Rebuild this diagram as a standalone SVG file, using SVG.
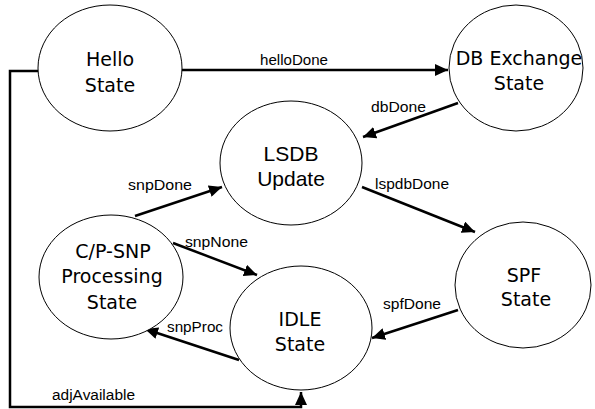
<svg xmlns="http://www.w3.org/2000/svg" width="595" height="409" viewBox="0 0 595 409">
  <style>
    .state { fill: #ffffff; stroke: #000000; stroke-width: 1; }
    .name { font-family: "DejaVu Sans", Verdana, sans-serif; font-size: 19px; fill: #000000; text-anchor: middle; }
    .name2 { font-family: "Liberation Sans", Arial, sans-serif; font-size: 21px; fill: #000000; text-anchor: middle; }
    .edge { fill: none; stroke: #000000; stroke-width: 2.5; marker-end: url(#head); }
    .label { font-family: "Liberation Sans", Arial, sans-serif; font-size: 14px; fill: #000000; }
  </style>
  <defs>
    <marker id="head" markerUnits="userSpaceOnUse" markerWidth="14" markerHeight="12" refX="13" refY="6" orient="auto">
      <path d="M0,0 L13,6 L0,12 Z" fill="#000000"/>
    </marker>
  </defs>
  <rect width="595" height="409" fill="#ffffff"/>

  <!-- transitions -->
  <g id="connectors">
    <path class="edge" d="M182,70 L448,70"/>
    <path class="edge" d="M458,103 L363,137"/>
    <path class="edge" d="M362,187 L475,232"/>
    <path class="edge" d="M458,310 L372,338"/>
    <path class="edge" d="M135,216 L222,187"/>
    <path class="edge" d="M173,243 L257,275"/>
    <path class="edge" d="M239,360 L145,329"/>
    <path class="edge" d="M38,71 L10,71 L10,407 L301,407 L301,392"/>
    <text class="label" x="260" y="65" textLength="68" lengthAdjust="spacingAndGlyphs">helloDone</text>
    <text class="label" x="371" y="112" textLength="55" lengthAdjust="spacingAndGlyphs">dbDone</text>
    <text class="label" x="375" y="189" textLength="74" lengthAdjust="spacingAndGlyphs">lspdbDone</text>
    <text class="label" x="383" y="309" textLength="58" lengthAdjust="spacingAndGlyphs">spfDone</text>
    <text class="label" x="128" y="190" textLength="64" lengthAdjust="spacingAndGlyphs">snpDone</text>
    <text class="label" x="185" y="247" textLength="63" lengthAdjust="spacingAndGlyphs">snpNone</text>
    <text class="label" x="167" y="332" textLength="56" lengthAdjust="spacingAndGlyphs">snpProc</text>
    <text class="label" x="52" y="400" textLength="83" lengthAdjust="spacingAndGlyphs">adjAvailable</text>
  </g>

  <g id="hello">
    <ellipse class="state" cx="110" cy="68" rx="72" ry="63"/>
    <text class="name" x="110" y="66">Hello</text>
    <text class="name" x="110" y="92">State</text>
  </g>

  <g id="dbExchange">
    <ellipse class="state" cx="516" cy="68" rx="67" ry="63"/>
    <text class="name" x="519" y="65">DB Exchange</text>
    <text class="name" x="519" y="90">State</text>
  </g>

  <g id="lsdbUpdate">
    <ellipse class="state" cx="291" cy="163" rx="71" ry="62"/>
    <text class="name2" x="291" y="161">LSDB</text>
    <text class="name2" x="291" y="186">Update</text>
  </g>

  <g id="spf">
    <ellipse class="state" cx="523" cy="285" rx="68" ry="63"/>
    <text class="name" x="524" y="282">SPF</text>
    <text class="name" x="526" y="306">State</text>
  </g>

  <g id="cpSnp">
    <ellipse class="state" cx="111" cy="277" rx="72" ry="62"/>
    <text class="name" x="113" y="258">C/P-SNP</text>
    <text class="name" x="112" y="283">Processing</text>
    <text class="name" x="112" y="309">State</text>
  </g>

  <g id="idle">
    <ellipse class="state" cx="301" cy="328" rx="71" ry="62"/>
    <text class="name" x="300" y="326">IDLE</text>
    <text class="name" x="300" y="351">State</text>
  </g>
</svg>
